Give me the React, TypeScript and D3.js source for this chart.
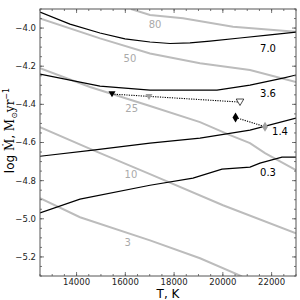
import React from "react";
import * as d3 from "d3";

// temperature (K) / log mass-loss values
const mass70T = [12500, 13730, 14961, 15986, 17012, 17832, 18652, 19473, 20703, 21934, 23000];
const mass70M = [-3.916, -3.979, -4.026, -4.057, -4.073, -4.081, -4.078, -4.068, -4.052, -4.036, -4.021];
const mass36T = [12500, 14961, 17012, 19760, 21113, 22467, 23000];
const mass36M = [-4.241, -4.304, -4.325, -4.325, -4.299, -4.262, -4.246];
const mass14T = [12500, 14674, 17012, 19063, 21113, 23000];
const mass14M = [-4.672, -4.640, -4.603, -4.577, -4.535, -4.472];
const mass03T = [12500, 14141, 17012, 18775, 19965, 21113, 21523, 22426, 23000];
const mass03M = [-4.969, -4.897, -4.824, -4.787, -4.740, -4.729, -4.708, -4.677, -4.677];

const grey80T = [16232, 17012, 18365, 20416, 22467, 23000];
const grey80M = [-3.9, -3.931, -3.949, -3.993, -4.014, -4.019];
const grey50T = [12500, 14961, 17012, 19063, 21113, 23000];
const grey50M = [-3.949, -4.054, -4.133, -4.185, -4.22, -4.283];
const grey25T = [12500, 14551, 17012, 19063, 20293, 21113, 21729, 23000];
const grey25M = [-4.21, -4.309, -4.409, -4.493, -4.561, -4.603, -4.656, -4.745];
const grey10T = [12500, 14674, 17012, 20006, 23000];
const grey10M = [-4.519, -4.64, -4.766, -4.929, -5.076];
const grey03T = [12500, 14141, 17012, 19063, 20785];
const grey03M = [-4.892, -4.992, -5.113, -5.207, -5.302];

const blackLabels = ["7.0", "3.6", "1.4", "0.3"];
const blackLabelT = [21852, 21852, 22344, 21852];
const blackLabelM = [-4.105, -4.341, -4.544, -4.759];
const greyLabels = ["80", "50", "25", "10", "3"];
const greyLabelT = [17217, 16191, 16261, 16232, 16097];
const greyLabelM = [-3.979, -4.162, -4.42, -4.766, -5.122];

// observed points
const triT = [15453, 16971, 20703];
const triM = [-4.346, -4.36, -4.388];
const diaT = [20519, 21729];
const diaM = [-4.469, -4.517];

const xTicks = [14000, 16000, 18000, 20000, 22000];
const yTicks = [-5.2, -5.0, -4.8, -4.6, -4.4, -4.2, -4.0];

const W = 300;
const H = 300;
const margin = { top: 9, right: 4, bottom: 24, left: 40 };

export default function App() {
  const x = d3.scaleLinear().domain([12500, 23000]).range([margin.left, W - margin.right]);
  const y = d3.scaleLinear().domain([-5.3, -3.9]).range([H - margin.bottom, margin.top]);

  const line = d3
    .line<[number, number]>()
    .x((d) => x(d[0]))
    .y((d) => y(d[1]));

  const pts = (ts: number[], ms: number[]) => ts.map((t, i) => [t, ms[i]] as [number, number]);

  const blackCurves = [pts(mass70T, mass70M), pts(mass36T, mass36M), pts(mass14T, mass14M), pts(mass03T, mass03M)];
  const greyCurves = [pts(grey80T, grey80M), pts(grey50T, grey50M), pts(grey25T, grey25M), pts(grey10T, grey10M), pts(grey03T, grey03M)];

  const x0 = margin.left;
  const x1 = W - margin.right;
  const y0 = margin.top;
  const y1 = H - margin.bottom;

  const xMinor = d3.range(12500, 23001, 500);
  const yMinor = d3.range(-5.3, -3.89, 0.05);

  const fmt = (v: number) => v.toFixed(1).replace("-", "\u2212");
  const tickCol = "#555";

  const tri = (cx: number, cy: number, s: number) =>
    `M${cx - s},${cy - s * 0.8}L${cx + s},${cy - s * 0.8}L${cx},${cy + s * 0.9}Z`;
  const dia = (cx: number, cy: number, w: number, h: number) =>
    `M${cx},${cy - h}L${cx + w},${cy}L${cx},${cy + h}L${cx - w},${cy}Z`;

  return (
    <svg width={W} height={H} style={{ position: "absolute", left: 0, top: 0 }} fontFamily="DejaVu Sans">
      <rect width={W} height={H} fill="#fff" />
      <defs>
        <clipPath id="plot">
          <rect x={x0} y={y0} width={x1 - x0} height={y1 - y0} />
        </clipPath>
      </defs>

      <g clipPath="url(#plot)" fill="none">
        {greyCurves.map((c, i) => (
          <path key={"g" + i} d={line(c) || ""} stroke="#bcbcbc" strokeWidth={2} />
        ))}
        {blackCurves.map((c, i) => (
          <path key={"b" + i} d={line(c) || ""} stroke="#000" strokeWidth={1.2} />
        ))}
        <path d={line(pts(triT, triM).filter((_, i) => i !== 1)) || ""} stroke="#000" strokeWidth={1.1} strokeDasharray="1.2,1.2" />
        <path d={line(pts(diaT, diaM)) || ""} stroke="#000" strokeWidth={1.1} strokeDasharray="1.2,1.2" />
      </g>

      {greyLabels.map((l, i) => (
        <text key={l} x={x(greyLabelT[i])} y={y(greyLabelM[i])} dy="0.35em" textAnchor="middle" fontSize={10} fill="#aaaaaa">
          {l}
        </text>
      ))}
      {blackLabels.map((l, i) => (
        <text key={l} x={x(blackLabelT[i])} y={y(blackLabelM[i])} dy="0.35em" textAnchor="middle" fontSize={10} fill="#000">
          {l}
        </text>
      ))}

      <path d={tri(x(triT[0]), y(triM[0]), 3.5)} fill="#000" />
      <path d={tri(x(triT[1]), y(triM[1]), 3.5)} fill="#a0a0a0" />
      <path d={tri(x(triT[2]), y(triM[2]), 3.8)} fill="#fff" stroke="#000" strokeWidth={0.7} />
      <path d={dia(x(diaT[0]), y(diaM[0]), 3, 5)} fill="#000" />
      <path d={dia(x(diaT[1]), y(diaM[1]), 3, 5)} fill="#a0a0a0" />

      {/* ticks, pointing inward on all sides */}
      <g stroke={tickCol} strokeWidth={0.8}>
        {xMinor.map((t) => (
          <g key={"xm" + t}>
            <line x1={x(t)} x2={x(t)} y1={y1} y2={y1 - 2} />
            <line x1={x(t)} x2={x(t)} y1={y0} y2={y0 + 2} />
          </g>
        ))}
        {xTicks.map((t) => (
          <g key={"xt" + t}>
            <line x1={x(t)} x2={x(t)} y1={y1} y2={y1 - 4} />
            <line x1={x(t)} x2={x(t)} y1={y0} y2={y0 + 4} />
          </g>
        ))}
        {yMinor.map((t, i) => (
          <g key={"ym" + i}>
            <line x1={x0} x2={x0 + 2} y1={y(t)} y2={y(t)} />
            <line x1={x1} x2={x1 - 2} y1={y(t)} y2={y(t)} />
          </g>
        ))}
        {yTicks.map((t) => (
          <g key={"yt" + t}>
            <line x1={x0} x2={x0 + 4} y1={y(t)} y2={y(t)} />
            <line x1={x1} x2={x1 - 4} y1={y(t)} y2={y(t)} />
          </g>
        ))}
      </g>
      <rect x={x0} y={y0} width={x1 - x0} height={y1 - y0} fill="none" stroke={tickCol} strokeWidth={1} />

      {xTicks.map((t) => (
        <text key={"xl" + t} x={x(t)} y={y1 + 8.5} textAnchor="middle" fontSize={8.5} fill="#222">
          {t}
        </text>
      ))}
      {yTicks.map((t) => (
        <text key={"yl" + t} x={x0 - 4} y={y(t)} dy="0.35em" textAnchor="end" fontSize={8.5} fill="#222">
          {fmt(t)}
        </text>
      ))}

      <text x={(x0 + x1) / 2} y={297.5} textAnchor="middle" fontSize={12} fill="#000">
        T, K
      </text>
      <text transform={`translate(14,${(y0 + y1) / 2 - 12}) rotate(-90)`} textAnchor="middle" fontSize={12} fill="#000">
        <tspan>log </tspan>
        <tspan fontFamily="DejaVu Serif">{"M\u0307"}</tspan>
        <tspan>, </tspan>
        <tspan fontFamily="DejaVu Serif">M</tspan>
        <tspan fontSize={8} dy={2.5}>{"\u2299"}</tspan>
        <tspan fontFamily="DejaVu Serif" dy={-2.5}>yr</tspan>
        <tspan fontSize={8} dy={-5}>{"\u22121"}</tspan>
      </text>
    </svg>
  );
}
